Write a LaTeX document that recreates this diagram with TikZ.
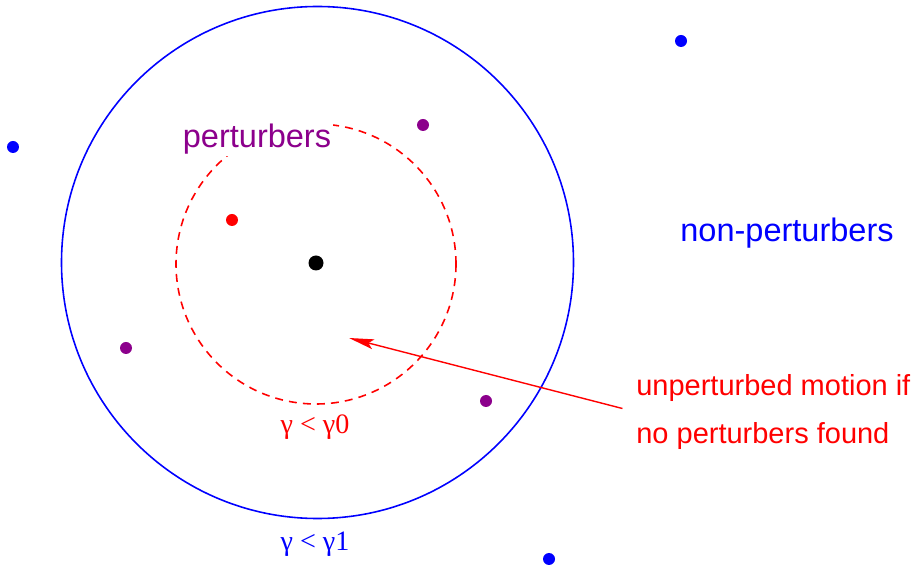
\documentclass[tikz,border=0pt]{standalone}
\usepackage{fontspec}
\setmainfont{Liberation Sans}
\newfontfamily\greekfont{Liberation Serif}
\usetikzlibrary{arrows.meta}
\definecolor{purp}{RGB}{140,0,140}
\begin{document}
\begin{tikzpicture}[
        lbl/.style={font=\fontsize{18.5}{22}\selectfont, inner sep=1pt},
        glbl/.style={font=\greekfont\fontsize{16}{18}\selectfont},
        pdot/.style={fill=#1}]
        \useasboundingbox (0,0) rectangle (18.32,11.34);
        \draw[blue, line width=0.9pt] (6.35,6.09) circle (5.12);
        \draw[red, line width=0.9pt, dash pattern=on 4.5pt off 3.5pt] (6.32,6.06) circle (2.8);

        \fill (6.32,6.08) circle (0.15);
        \fill[pdot=red] (4.64,6.94) circle (0.12);
        \fill[pdot=purp] (8.46,8.84) circle (0.12);
        \fill[pdot=purp] (2.52,4.38) circle (0.12);
        \fill[pdot=purp] (9.72,3.32) circle (0.12);
        \fill[pdot=blue] (13.62,10.52) circle (0.12);
        \fill[pdot=blue] (0.26,8.40) circle (0.12);
        \fill[pdot=blue] (10.98,0.16) circle (0.12);

        \node[lbl, purp, fill=white] (pert) at (5.14,8.56) {perturbers};
        \node[lbl, blue] (nonpert) at (15.74,6.68) {non-perturbers};
        \node[red, anchor=west, align=left, inner sep=0pt,
              font=\fontsize{16.5}{27}\selectfont] (note) at (12.72,3.10)
              {unperturbed motion if\\no perturbers found};
        \node[glbl, red] (g0) at (6.30,2.80) {γ < γ0};
        \node[glbl, blue] (g1) at (6.30,0.46) {γ < γ1};

        \coordinate (tip) at (6.98,4.58);
        \draw[red, line width=0.8pt, shorten <=0.28cm,
              -{Stealth[length=5mm, width=2mm, inset=1mm]}] (note.west) -- (tip);
    \end{tikzpicture}
\end{document}
